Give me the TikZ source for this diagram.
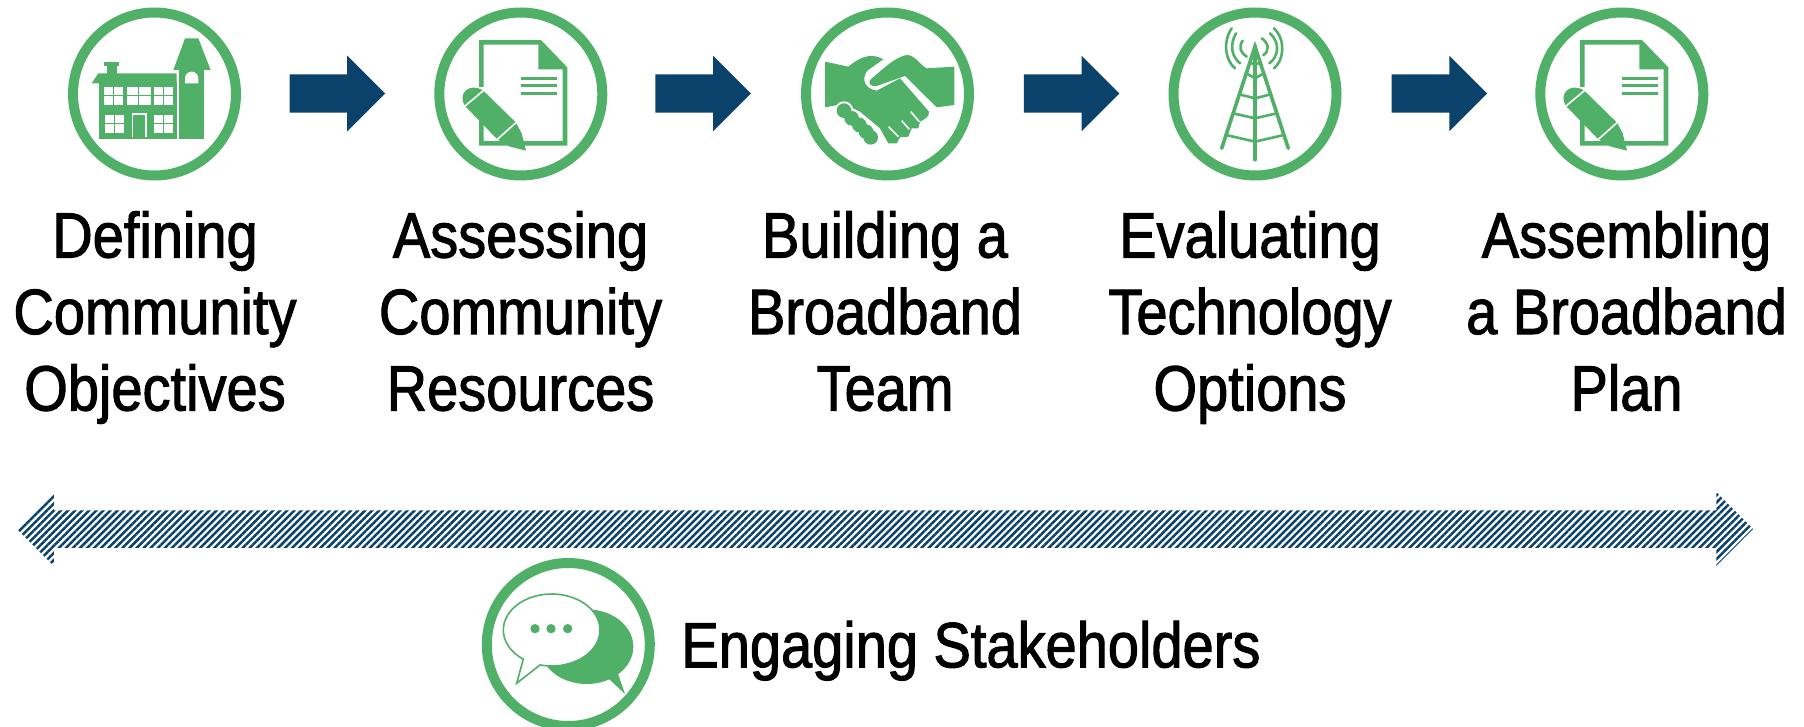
\documentclass[tikz,border=0pt]{standalone}
\usepackage{fontspec}
\setmainfont[FakeStretch=0.875,FakeBold=1.6]{Liberation Sans}
\usepackage{tikz}
\usetikzlibrary{shapes.arrows,patterns.meta}
\definecolor{IconGreen}{HTML}{50B068}
\definecolor{ArrowNavy}{HTML}{0A426C}
\tikzset{
  ring/.style={circle,draw=IconGreen,line width=5pt,minimum size=81.5pt,inner sep=0pt},
  steparrow/.style={single arrow,anchor=tip,fill=ArrowNavy,inner xsep=0pt,inner ysep=9.35pt,minimum height=47.75pt,single arrow head extend=9.4pt},
  spanarrow/.style={double arrow,inner xsep=0pt,inner ysep=8.75pt,minimum height=868pt,double arrow head extend=9pt,
    pattern={Lines[angle=45,distance=2.5pt,line width=1.25pt]},pattern color=ArrowNavy},
  caption/.style={align=center,inner sep=0pt,font=\fontsize{32}{38.25}\selectfont,
    execute at begin node=\strut,execute at end node=\strut},
  solid icon/.style={fill=IconGreen},
  line icon/.style={draw=IconGreen,line cap=round},
  gap/.style={draw=white,line width=0.8pt}
}
\begin{document}
\begin{tikzpicture}[x=0.5pt,y=-0.5pt]
\useasboundingbox (0,0) rectangle (1804,727);
% rings
\node[ring] (objectives) at (154.5,94) {};
\node[ring] (resources) at (520.8,94) {};
\node[ring] (team) at (887.5,94) {};
\node[ring] (options) at (1255,94) {};
\node[ring] (plan) at (1621.8,94) {};
\node[ring] (stakeholders) at (568.3,644.5) {};
%
\node[steparrow] (arrowa) at (385.7,93.5) {};
\node[steparrow] (arrowb) at (751.5,93.5) {};
\node[steparrow] (arrowc) at (1120,93.5) {};
\node[steparrow] (arrowd) at (1487.7,93.5) {};
\node[spanarrow] (span) at (885,529) {};
%
\node[caption] (objectivestext) at (155,322.3) {Defining\\Community\\Objectives};
\node[caption] (resourcestext) at (520.5,322.3) {Assessing\\Community\\Resources};
\node[caption] (teamtext) at (885,322.3) {Building a\\Broadband\\Team};
\node[caption] (optionstext) at (1250,322.3) {Evaluating\\Technology\\Options};
\node[caption] (plantext) at (1626.5,322.3) {Assembling\\a Broadband\\Plan};
\node[caption,anchor=west] (stakeholderstext) at (681,652) {Engaging Stakeholders};
% school
\begin{scope}[shift={(50,0)},scale=1/3]
\fill[solid icon] (148,245) rectangle (382,418);
\fill[solid icon] (125,250) -- (145,220) -- (380,220) -- (380,250) -- cycle;
\fill[solid icon] (170,222) rectangle (202,195);
\fill[solid icon] (163,187) rectangle (207,197);
\fill[solid icon] (388,210) rectangle (463,418);
\fill[solid icon] (370,210) -- (405,115) -- (445,115) -- (482,210) -- cycle;
\fill[white] (405,250) -- (405,235) arc[start angle=180,end angle=360,x radius=20,y radius=20] -- (445,250) -- cycle;
\foreach \wx/\wy/\wr/\wb in {163/260/220/315,231/260/302/315,311/260/368/315,165/345/223/398,313/345/370/398}{
  \fill[white] (\wx,\wy) rectangle (\wr,\wb);
  \draw[IconGreen,line width=0.5pt] (\wx,{(\wy+\wb)/2}) -- (\wr,{(\wy+\wb)/2});
  \draw[IconGreen,line width=0.5pt] ({(\wx+\wr)/2},\wy) -- ({(\wx+\wr)/2},\wb);
}
\draw[white,line width=0.7pt] (247,412) -- (247,342) -- (288,342) -- (288,412);
\end{scope}
% document and pencil
\foreach \docx in {410,1511}{
\begin{scope}[shift={(\docx,0)},scale=1/3]
\draw[IconGreen,line width=2.3pt,line join=miter] (214,127) -- (390,127) -- (465,205) -- (465,430) -- (214,430) -- cycle;
\fill[solid icon] (385,130) -- (385,208) -- (465,208) -- cycle;
\foreach \ly in {236,258,281}{
  \draw[IconGreen,line width=1.5pt] (333,\ly) -- (440,\ly);
}
\fill[white] (205,262) rectangle (224,320);
\fill[solid icon] (165,318) .. controls (141,282) and (177,245) .. (220,272)
  -- (318,368) -- (335,400) -- (348,452) -- (300,440) -- (262,418) -- cycle;
\draw[gap] (165,318) -- (220,272);
\draw[gap] (262,418) -- (318,368);
\end{scope}
}
% handshake
\begin{scope}[shift={(780,0)},scale=1/3]
\fill[solid icon] (135,185) -- (205,200) .. controls (235,175) and (270,155) .. (310,178) -- (262,212)
  .. controls (245,235) and (250,265) .. (290,272) -- (360,235) -- (447,335) .. controls (450,350) and (430,360) .. (420,365)
  -- (415,385) -- (395,385) -- (385,410) -- (360,412) -- (350,430) -- (325,430) -- (300,385) -- (240,335) -- (190,312) -- (135,322) -- cycle;
\fill[solid icon] (270,240) .. controls (300,215) and (345,170) .. (380,165) .. controls (405,165) and (420,195) .. (440,205)
  -- (523,200) -- (523,315) -- (470,322) -- (375,228) -- (290,258) .. controls (270,260) and (265,250) .. (270,240) -- cycle;
\foreach \kx/\ky in {192/332,215/355,238/375,258/395,272/412}{
  \fill[white] (\kx,\ky) circle[radius=28];
}
\foreach \kx/\ky in {192/332,215/355,238/375,258/395,272/412}{
  \fill[solid icon] (\kx,\ky) circle[radius=22];
}
\draw[gap] (325,380) -- (355,410);
\draw[gap] (365,362) -- (388,388);
\draw[gap] (392,335) -- (418,365);
\end{scope}
% tower
\begin{scope}[shift={(1150,0)},scale=1/3]
\draw[line icon,line width=1.3pt] (278,122) .. controls (265,140) and (272,160) .. (290,170);
\draw[line icon,line width=1.3pt] (258,100) .. controls (238,135) and (245,170) .. (270,190);
\draw[line icon,line width=1.3pt] (245,85) .. controls (218,125) and (225,180) .. (255,205);
\draw[line icon,line width=1.3pt] (335,115) .. controls (358,130) and (358,155) .. (340,165);
\draw[line icon,line width=1.3pt] (360,100) .. controls (392,130) and (385,170) .. (358,190);
\draw[line icon,line width=1.3pt] (372,85) .. controls (408,120) and (402,180) .. (372,205);
\draw[line icon,line width=1.8pt] (215,445) -- (315,140) -- (415,445);
\draw[line icon,line width=2.4pt] (315,140) -- (315,478);
\foreach \ry/\rc in {187/195,220/235,283/295,340/355,405/425}{
  \draw[line icon,line width=1.3pt] ({315-(\ry-140)/3.05},\ry) -- (315,\rc) -- ({315+(\ry-140)/3.05},\ry);
}
\end{scope}
% speech bubbles
\begin{scope}[shift={(470,550)},scale=1/3]
\fill[solid icon] (350,290) ellipse[x radius=140,y radius=112];
\fill[solid icon] (415,385) -- (465,432) -- (440,360) -- cycle;
\draw[draw=IconGreen,fill=white,line width=0.8pt] (159.8,327.4) arc[start angle=126,end angle=464,x radius=145,y radius=108] -- (140,400) -- cycle;
\foreach \dx in {195,243,293}{
  \fill[solid icon] (\dx,236) circle[radius=14];
}
\end{scope}
\end{tikzpicture}
\end{document}
